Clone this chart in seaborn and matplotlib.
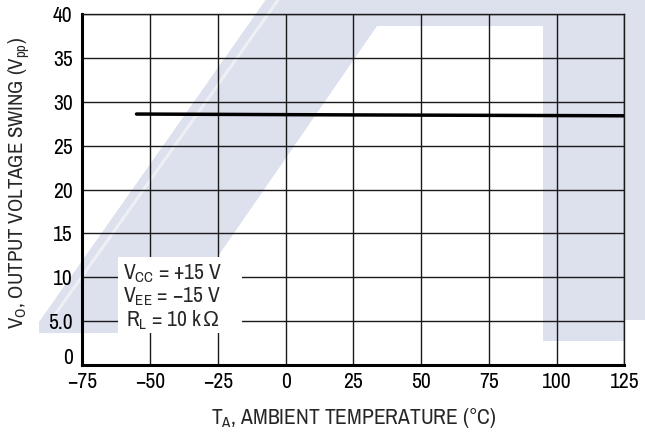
import matplotlib
matplotlib.use("Agg")
import matplotlib.pyplot as plt
from matplotlib import font_manager as fm
from matplotlib.patches import Polygon, Rectangle
from matplotlib.transforms import ScaledTranslation
import seaborn as sns
import pandas as pd

# Output voltage swing vs ambient temperature
temperature_c = [-55, 25, 125]
swing_vpp = [28.6, 28.5, 28.4]

x_ticks = [-75, -50, -25, 0, 25, 50, 75, 100, 125]
x_tick_labels = ["−75", "−50", "−25", "0", "25", "50", "75", "100", "125"]
y_ticks = [0, 5, 10, 15, 20, 25, 30, 35, 40]
y_tick_labels = ["0", "5.0", "10", "15", "20", "25", "30", "35", "40"]

conditions = ["V$_{\\mathregular{CC}}$ = +15 V",
              "V$_{\\mathregular{EE}}$ = −15 V",
              "R$_{\\mathregular{L}}$ = 10 kΩ"]
x_label = "T$_{\\mathregular{A}}$, AMBIENT TEMPERATURE (°C)"
y_label = "V$_{\\mathregular{O}}$, OUTPUT VOLTAGE SWING (V$_{\\mathregular{pp}}$)"

sns.set_style("white")

# narrow sans face, falling back to regular sans
installed = {f.name for f in fm.fontManager.ttflist}
narrow = next((n for n in ["Liberation Sans Narrow", "Archivo Narrow", "Roboto Condensed",
                           "PT Sans Narrow", "Liberation Sans"] if n in installed),
              "DejaVu Sans")
FAMILY = [narrow, "Liberation Sans", "DejaVu Sans"]
plt.rcParams["font.family"] = FAMILY
plt.rcParams["mathtext.fontset"] = "custom"
plt.rcParams["mathtext.rm"] = narrow
plt.rcParams["mathtext.it"] = narrow
plt.rcParams["mathtext.fallback"] = "stixsans"
FS = 15.5

W, H = 645, 434
fig = plt.figure(figsize=(W / 100, H / 100), dpi=100)
ax = fig.add_axes([82.3 / W, 1 - 365 / H, (624.4 - 82.3) / W, (365 - 14) / H])
ax.set_facecolor("none")


def px(x, y):
    return (x / W, 1 - y / H)


def shift(artist, dx_px, dy_px):
    artist.set_transform(artist.get_transform() +
                         ScaledTranslation(dx_px / fig.dpi, dy_px / fig.dpi,
                                           fig.dpi_scale_trans))


# background logo shape
shade = "#dde0ed"
logo_pts = [(267, -2), (647, -2), (647, 320), (625, 320), (625, 341), (543, 341),
            (543, 26), (377, 26), (165, 333), (39, 333), (39, 322)]
fig.patches.append(Polygon([px(*p) for p in logo_pts], closed=True,
                           transform=fig.transFigure, facecolor=shade,
                           edgecolor="none", zorder=-5))
# faint highlight streak along the slanted band
stripe = [(278 - 0.709 * y, y) for y in (0, 318)]
fig.lines.append(plt.Line2D([px(*p)[0] for p in stripe], [px(*p)[1] for p in stripe],
                            transform=fig.transFigure, color="#eff0f6", lw=2.2,
                            zorder=-4))

df = pd.DataFrame({"T": temperature_c, "V": swing_vpp})
sns.lineplot(data=df, x="T", y="V", ax=ax, color="black", lw=2.5, zorder=5)

ax.set_xlim(-75, 125)
ax.set_ylim(0, 40)
ax.set_xticks(x_ticks)
ax.set_xticklabels(x_tick_labels)
ax.set_yticks(y_ticks)
ax.set_yticklabels(y_tick_labels)
ax.tick_params(axis="both", length=0, labelsize=FS, colors="black")
ax.tick_params(axis="x", pad=5)
ax.tick_params(axis="y", pad=7)
# lift the y-axis zero label clear of the x-axis labels
shift(ax.get_yticklabels()[0], 0, 9)

ax.grid(True, color="#1a1a1a", lw=1.0)
ax.set_axisbelow(True)
for side in ("top", "right"):
    ax.spines[side].set_visible(True)
    ax.spines[side].set_linewidth(1.0)
    ax.spines[side].set_color("#1a1a1a")
for side in ("left", "bottom"):
    ax.spines[side].set_linewidth(2.2)
    ax.spines[side].set_color("black")

ax.set_xlabel(x_label, fontsize=FS)
ax.set_ylabel(y_label, fontsize=15.0)
ax.xaxis.set_label_coords(0.5, -0.117)
ax.yaxis.set_label_coords(-0.092, 0.52)

# test-condition box
ax.add_patch(Rectangle((-61.8, 3.65), 45.7, 8.65, facecolor="white",
                       edgecolor="none", zorder=3))
cx = -41.9
pairs = []
for txt, yb in zip(conditions, [9.77, 7.10, 4.44]):
    if "Ω" in txt:
        head, tail = txt.split("Ω", 1)
        t1 = ax.text(cx, yb, head, ha="right", va="baseline", fontsize=FS, zorder=4)
        t2 = ax.text(cx, yb, "Ω" + tail, ha="left", va="baseline", fontsize=FS,
                     zorder=4, family=FAMILY[1:])
        pairs.append((t1, t2))
    else:
        ax.text(cx, yb, txt, ha="center", va="baseline", fontsize=FS, zorder=4)

fig.canvas.draw()
rend = fig.canvas.get_renderer()
for t1, t2 in pairs:
    w1 = t1.get_window_extent(rend).width
    w2 = t2.get_window_extent(rend).width
    for t in (t1, t2):
        shift(t, (w1 - w2) / 2, 0)

fig.savefig("out.png", dpi=100)
